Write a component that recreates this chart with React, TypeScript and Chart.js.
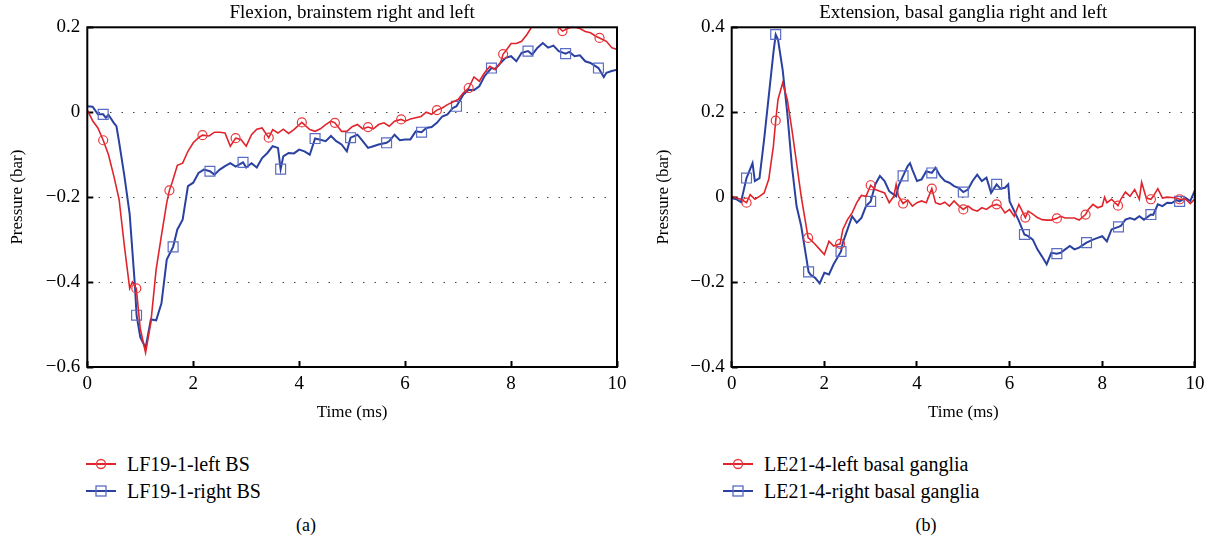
import React, { useEffect, useRef } from "react";
import { Chart, registerables } from "chart.js";

Chart.register(...registerables);

const FONT = '"Liberation Serif", "Times New Roman", serif';

// ---------- Panel (a): Flexion, brainstem ----------
const aTitle = "Flexion, brainstem right and left";
const aLeftLabel = "LF19-1-left BS";
const aRightLabel = "LF19-1-right BS";

const aLeftBS: [number, number][] = [
  [0, 0.005], [0.1, -0.02], [0.2, -0.037], [0.3, -0.066], [0.4, -0.1], [0.5, -0.15],
  [0.6, -0.205], [0.7, -0.315], [0.8, -0.415], [0.85, -0.4], [0.925, -0.415], [1.0, -0.51],
  [1.1, -0.566], [1.2, -0.495], [1.3, -0.37], [1.4, -0.29], [1.5, -0.213], [1.55, -0.184],
  [1.6, -0.166], [1.7, -0.125], [1.8, -0.12], [1.9, -0.092], [2.0, -0.072], [2.1, -0.06],
  [2.175, -0.054], [2.3, -0.056], [2.4, -0.047], [2.5, -0.047], [2.6, -0.049], [2.7, -0.08],
  [2.8, -0.061], [2.9, -0.064], [3.0, -0.08], [3.1, -0.053], [3.2, -0.04], [3.3, -0.037],
  [3.425, -0.06], [3.5, -0.041], [3.6, -0.049], [3.7, -0.04], [3.8, -0.05], [3.9, -0.041],
  [4.05, -0.024], [4.2, -0.041], [4.3, -0.045], [4.4, -0.039], [4.5, -0.029], [4.6, -0.021],
  [4.675, -0.025], [4.8, -0.045], [4.9, -0.045], [5.0, -0.034], [5.1, -0.029], [5.2, -0.039],
  [5.3, -0.035], [5.4, -0.039], [5.5, -0.029], [5.6, -0.025], [5.7, -0.033], [5.8, -0.021],
  [5.925, -0.017], [6.0, -0.021], [6.1, -0.016], [6.2, -0.013], [6.3, -0.01], [6.4, 0.0],
  [6.5, -0.005], [6.6, 0.005], [6.7, 0.01], [6.8, 0.018], [6.9, 0.024], [7.0, 0.03],
  [7.1, 0.046], [7.2, 0.057], [7.3, 0.083], [7.4, 0.073], [7.5, 0.093], [7.6, 0.108],
  [7.7, 0.1], [7.8, 0.116], [7.85, 0.137], [7.9, 0.144], [8.0, 0.162], [8.1, 0.162],
  [8.2, 0.167], [8.3, 0.183], [8.4, 0.203], [8.6, 0.215], [8.8, 0.212], [8.9, 0.2],
  [8.97, 0.191], [9.1, 0.199], [9.2, 0.2], [9.3, 0.197], [9.4, 0.19], [9.5, 0.187],
  [9.6, 0.179], [9.67, 0.175], [9.8, 0.167], [9.9, 0.152], [10.0, 0.148],
];
const aLeftMarkers = [0.3, 0.925, 1.55, 2.175, 2.8, 3.425, 4.05, 4.675, 5.3, 5.925, 6.6, 7.2, 7.85, 8.97, 9.67];

const aRightBS: [number, number][] = [
  [0, 0.014], [0.1, 0.013], [0.2, -0.005], [0.3, -0.005], [0.35, -0.013], [0.4, -0.006],
  [0.5, -0.025], [0.55, -0.033], [0.6, -0.07], [0.7, -0.15], [0.8, -0.24], [0.9, -0.41],
  [0.93, -0.478], [1.0, -0.53], [1.1, -0.555], [1.2, -0.488], [1.3, -0.49], [1.4, -0.45],
  [1.5, -0.347], [1.62, -0.317], [1.7, -0.276], [1.8, -0.253], [1.9, -0.174], [2.0, -0.166],
  [2.1, -0.143], [2.2, -0.135], [2.315, -0.139], [2.4, -0.147], [2.5, -0.135], [2.6, -0.127],
  [2.7, -0.12], [2.8, -0.128], [2.94, -0.118], [3.0, -0.13], [3.1, -0.12], [3.2, -0.13],
  [3.3, -0.108], [3.4, -0.096], [3.5, -0.08], [3.6, -0.084], [3.65, -0.134], [3.7, -0.104],
  [3.8, -0.096], [3.9, -0.097], [4.0, -0.088], [4.1, -0.092], [4.2, -0.1], [4.3, -0.062],
  [4.4, -0.065], [4.5, -0.068], [4.6, -0.056], [4.7, -0.068], [4.8, -0.076], [4.9, -0.092],
  [4.97, -0.06], [5.1, -0.053], [5.2, -0.068], [5.3, -0.084], [5.4, -0.08], [5.5, -0.076],
  [5.65, -0.072], [5.7, -0.068], [5.8, -0.053], [5.9, -0.066], [6.0, -0.064], [6.1, -0.064],
  [6.2, -0.045], [6.31, -0.047], [6.4, -0.037], [6.5, -0.035], [6.6, -0.025], [6.7, -0.01],
  [6.8, -0.005], [6.9, 0.01], [6.97, 0.014], [7.1, 0.042], [7.2, 0.053], [7.3, 0.052],
  [7.4, 0.061], [7.5, 0.085], [7.63, 0.104], [7.7, 0.102], [7.8, 0.116], [7.9, 0.128],
  [8.0, 0.132], [8.1, 0.12], [8.2, 0.14], [8.32, 0.144], [8.4, 0.136], [8.5, 0.152],
  [8.6, 0.163], [8.7, 0.152], [8.8, 0.157], [8.9, 0.144], [9.03, 0.138], [9.1, 0.142],
  [9.2, 0.132], [9.3, 0.134], [9.4, 0.12], [9.5, 0.116], [9.65, 0.104], [9.75, 0.083],
  [9.8, 0.093], [9.9, 0.097], [10.0, 0.1],
];
const aRightMarkers = [0.3, 0.93, 1.62, 2.315, 2.94, 3.65, 4.3, 4.97, 5.65, 6.31, 6.97, 7.63, 8.32, 9.03, 9.65];

const aYTicks = [-0.6, -0.4, -0.2, 0, 0.2];
const aYTickLabels = ["\u22120.6", "\u22120.4", "\u22120.2", "0", "0.2"];

// ---------- Panel (b): Extension, basal ganglia ----------
const bTitle = "Extension, basal ganglia right and left";
const bLeftLabel = "LE21-4-left basal ganglia";
const bRightLabel = "LE21-4-right basal ganglia";

const bLeftBG: [number, number][] = [
  [0, 0.002], [0.1, -0.002], [0.2, -0.005], [0.32, -0.013], [0.4, 0.006], [0.5, -0.005],
  [0.6, 0.002], [0.7, 0.01], [0.8, 0.042], [0.9, 0.12], [0.95, 0.18], [1.0, 0.23],
  [1.1, 0.269], [1.2, 0.23], [1.3, 0.159], [1.4, 0.081], [1.5, 0.002], [1.65, -0.096],
  [1.7, -0.1], [1.8, -0.111], [1.9, -0.123], [2.0, -0.135], [2.1, -0.104], [2.2, -0.115],
  [2.34, -0.11], [2.4, -0.076], [2.5, -0.053], [2.6, -0.037], [2.7, -0.013], [2.8, 0.004],
  [2.9, 0.002], [3.0, 0.028], [3.1, 0.018], [3.2, 0.014], [3.3, 0.01], [3.4, -0.013],
  [3.5, 0.002], [3.55, 0.03], [3.6, 0.002], [3.7, -0.015], [3.8, -0.007], [3.9, -0.021],
  [4.0, -0.013], [4.1, -0.009], [4.2, -0.013], [4.32, 0.02], [4.4, -0.013], [4.5, -0.017],
  [4.6, -0.012], [4.7, -0.021], [4.8, -0.009], [4.9, -0.02], [5.0, -0.029], [5.1, -0.021],
  [5.2, -0.029], [5.3, -0.033], [5.4, -0.025], [5.5, -0.029], [5.6, -0.021], [5.72, -0.017],
  [5.8, -0.021], [5.9, -0.037], [6.0, -0.029], [6.1, -0.045], [6.2, -0.017], [6.34, -0.048],
  [6.4, -0.033], [6.5, -0.04], [6.6, -0.048], [6.7, -0.053], [6.8, -0.054], [6.9, -0.054],
  [7.02, -0.05], [7.1, -0.045], [7.2, -0.049], [7.3, -0.049], [7.4, -0.049], [7.5, -0.054],
  [7.64, -0.041], [7.7, -0.029], [7.8, -0.017], [7.9, -0.025], [8.0, -0.021], [8.05, 0.0],
  [8.1, -0.013], [8.2, -0.005], [8.34, -0.02], [8.4, -0.005], [8.5, 0.012], [8.6, 0.002],
  [8.7, 0.018], [8.8, -0.005], [8.85, 0.035], [8.95, -0.002], [9.05, -0.005], [9.1, 0.002],
  [9.2, 0.02], [9.3, -0.002], [9.4, 0.0], [9.5, -0.001], [9.6, -0.002], [9.67, -0.005],
  [9.8, -0.005], [9.9, -0.015], [10.0, -0.004],
];
const bLeftMarkers = [0.32, 0.95, 1.65, 2.34, 3.0, 3.7, 4.32, 5.0, 5.72, 6.34, 7.02, 7.64, 8.34, 9.05, 9.67];

const bRightBG: [number, number][] = [
  [0, -0.002], [0.1, -0.005], [0.2, -0.012], [0.32, 0.045], [0.45, 0.08], [0.5, 0.038],
  [0.6, 0.045], [0.7, 0.136], [0.8, 0.238], [0.9, 0.34], [0.95, 0.383], [1.0, 0.371],
  [1.1, 0.3], [1.2, 0.198], [1.3, 0.073], [1.4, -0.021], [1.5, -0.068], [1.66, -0.176],
  [1.7, -0.182], [1.8, -0.19], [1.9, -0.203], [2.0, -0.178], [2.1, -0.182], [2.2, -0.158],
  [2.36, -0.128], [2.4, -0.107], [2.5, -0.076], [2.6, -0.045], [2.7, -0.06], [2.8, -0.049],
  [2.9, -0.021], [3.0, -0.01], [3.1, 0.03], [3.2, 0.05], [3.3, 0.038], [3.4, 0.014],
  [3.5, 0.006], [3.55, 0.002], [3.6, 0.026], [3.7, 0.05], [3.8, 0.073], [3.85, 0.08],
  [3.9, 0.065], [4.0, 0.038], [4.1, 0.042], [4.2, 0.061], [4.32, 0.057], [4.4, 0.069],
  [4.5, 0.05], [4.6, 0.038], [4.7, 0.034], [4.8, 0.026], [4.9, 0.022], [5.0, 0.012],
  [5.1, 0.018], [5.2, 0.038], [5.3, 0.053], [5.4, 0.038], [5.5, 0.046], [5.6, 0.01],
  [5.72, 0.03], [5.8, 0.02], [5.9, 0.022], [5.97, 0.03], [6.0, -0.01], [6.1, -0.033],
  [6.2, -0.056], [6.32, -0.088], [6.4, -0.092], [6.5, -0.1], [6.6, -0.123], [6.7, -0.14],
  [6.8, -0.158], [6.9, -0.131], [7.02, -0.133], [7.1, -0.131], [7.2, -0.123], [7.3, -0.115],
  [7.4, -0.123], [7.5, -0.119], [7.66, -0.107], [7.8, -0.1], [7.9, -0.096], [8.0, -0.092],
  [8.1, -0.104], [8.2, -0.076], [8.35, -0.07], [8.4, -0.068], [8.5, -0.053], [8.6, -0.049],
  [8.7, -0.053], [8.8, -0.045], [8.9, -0.053], [9.05, -0.041], [9.1, -0.042], [9.2, -0.017],
  [9.3, -0.021], [9.4, -0.013], [9.5, -0.014], [9.6, -0.007], [9.67, -0.01], [9.8, -0.002],
  [9.9, -0.009], [10.0, 0.016],
];
const bRightMarkers = [0.32, 0.95, 1.66, 2.36, 3.0, 3.7, 4.32, 5.0, 5.72, 6.32, 7.02, 7.66, 8.35, 9.05, 9.67];

const bYTicks = [-0.4, -0.2, 0, 0.2, 0.4];
const bYTickLabels = ["\u22120.4", "\u22120.2", "0", "0.2", "0.4"];

// ---------- Shared axis ----------
const xTicks = [0, 2, 4, 6, 8, 10];
const xTickLabels = ["0", "2", "4", "6", "8", "10"];
const xTitle = "Time (ms)";
const yTitle = "Pressure (bar)";

const RED = "#e0242b";
const RED_MARK = "#e8383e";
const BLUE = "#2a41a0";
const BLUE_MARK = "#5a6cc4";

const TICK_SIZE = 19;
const AXIS_TITLE_SIZE = 17;
const TITLE_SIZE = 19;
const LEGEND_SIZE = 20;

const boxPlugin = {
  id: "frameBox",
  afterDatasetsDraw(chart: any) {
    const { ctx, chartArea } = chart;
    const { left, top, right, bottom } = chartArea;
    ctx.save();
    ctx.strokeStyle = "#000";
    ctx.lineWidth = 2;
    ctx.strokeRect(left, top, right - left, bottom - top);
    ctx.restore();
  },
};

function makeDataset(label: string, pairs: [number, number][], markers: number[], color: string, markColor: string, style: string, lineWidth: number, radius: number) {
  const marks = new Set(markers.map((m) => m.toFixed(3)));
  return {
    label,
    data: pairs.map(([x, y]) => ({ x, y })),
    borderColor: color,
    borderWidth: lineWidth,
    pointStyle: style,
    pointRadius: (c: any) => (c.raw && marks.has(Number(c.raw.x).toFixed(3)) ? radius : 0),
    pointHoverRadius: 0,
    pointBorderColor: markColor,
    pointBackgroundColor: "rgba(0,0,0,0)",
    pointBorderWidth: 1.2,
    tension: 0,
    fill: false,
  };
}

function buildConfig(opts: {
  title: string;
  datasets: any[];
  yMin: number;
  yMax: number;
  yTicks: number[];
  yTickLabels: string[];
  yAxisWidth: number;
  yTitlePad: number;
  padRight: number;
}) {
  const tickFont = { family: FONT, size: TICK_SIZE };
  return {
    type: "line",
    data: { datasets: opts.datasets },
    plugins: [boxPlugin],
    options: {
      animation: false,
      responsive: false,
      maintainAspectRatio: false,
      events: [],
      layout: { padding: { left: 0, right: opts.padRight, top: 0, bottom: 0 } },
      plugins: {
        legend: { display: false },
        tooltip: { enabled: false },
        title: {
          display: true,
          text: opts.title,
          fullSize: false,
          color: "#000",
          font: { family: FONT, size: TITLE_SIZE, weight: "normal" },
          padding: { top: 1.5, bottom: 3 },
        },
      },
      scales: {
        x: {
          type: "linear",
          min: 0,
          max: 10,
          afterBuildTicks: (s: any) => {
            s.ticks = xTicks.map((v) => ({ value: v }));
          },
          afterFit: (s: any) => {
            s.height = 63;
          },
          grid: {
            display: true,
            drawOnChartArea: false,
            drawTicks: true,
            tickLength: -6,
            tickColor: "#000",
            tickWidth: 2,
          },
          border: { display: false },
          ticks: {
            color: "#000",
            font: tickFont,
            padding: 11.6,
            maxRotation: 0,
            autoSkip: false,
            callback: (v: number) => xTickLabels[xTicks.indexOf(v)],
          },
          title: {
            display: true,
            text: xTitle,
            color: "#000",
            font: { family: FONT, size: AXIS_TITLE_SIZE },
            padding: { top: 0, bottom: 6.8 },
          },
        },
        y: {
          type: "linear",
          min: opts.yMin,
          max: opts.yMax,
          afterBuildTicks: (s: any) => {
            s.ticks = opts.yTicks.map((v) => ({ value: v }));
          },
          afterFit: (s: any) => {
            s.width = opts.yAxisWidth;
          },
          grid: {
            display: true,
            drawOnChartArea: true,
            color: (c: any) =>
              c.tick && (Math.abs(c.tick.value - opts.yMin) < 1e-9 || Math.abs(c.tick.value - opts.yMax) < 1e-9)
                ? "rgba(0,0,0,0)"
                : "#444",
            lineWidth: 1,
            drawTicks: true,
            tickLength: -6,
            tickColor: "#000",
            tickWidth: 2,
          },
          border: { display: false, dash: [1.5, 10] },
          ticks: {
            color: "#000",
            font: tickFont,
            padding: 13,
            autoSkip: false,
            callback: (v: number) => {
              const i = opts.yTicks.findIndex((t) => Math.abs(t - v) < 1e-9);
              return i >= 0 ? opts.yTickLabels[i] : "";
            },
          },
          title: {
            display: true,
            text: yTitle,
            color: "#000",
            font: { family: FONT, size: AXIS_TITLE_SIZE },
            padding: { top: opts.yTitlePad, bottom: 0 },
          },
        },
      },
    },
  };
}

function ChartCanvas({ left, top, width, height, makeConfig }: any) {
  const ref = useRef<HTMLCanvasElement | null>(null);
  useEffect(() => {
    if (!ref.current) return;
    const chart = new Chart(ref.current, makeConfig());
    return () => chart.destroy();
  }, []);
  return (
    <canvas
      ref={ref}
      width={width}
      height={height}
      style={{ position: "absolute", left, top, width, height, display: "block" }}
    />
  );
}

function LegendRow({ x, y, label, kind, color, markColor }: any) {
  return (
    <div style={{ position: "absolute", left: x, top: y - 12, height: 24, display: "flex", alignItems: "center" }}>
      <svg width={32} height={24} style={{ display: "block" }}>
        <line x1={1} y1={12} x2={31} y2={12} stroke={color} strokeWidth={2} />
        {kind === "circle" ? (
          <circle cx={16} cy={12} r={4.5} fill="none" stroke={markColor} strokeWidth={1.3} />
        ) : (
          <rect x={11} y={7} width={10} height={10} fill="none" stroke={markColor} strokeWidth={1.3} />
        )}
      </svg>
      <span style={{ marginLeft: 10, fontFamily: FONT, fontSize: LEGEND_SIZE, color: "#000", whiteSpace: "nowrap", lineHeight: "24px" }}>
        {label}
      </span>
    </div>
  );
}

export default function App() {
  const makeA = () =>
    buildConfig({
      title: aTitle,
      datasets: [
        makeDataset(aLeftLabel, aLeftBS, aLeftMarkers, RED, RED_MARK, "circle", 1.6, 4.5),
        makeDataset(aRightLabel, aRightBS, aRightMarkers, BLUE, BLUE_MARK, "rect", 2, 7),
      ],
      yMin: -0.6,
      yMax: 0.2,
      yTicks: aYTicks,
      yTickLabels: aYTickLabels,
      yAxisWidth: 87.3,
      yTitlePad: 7.8,
      padRight: 23,
    });
  const makeB = () =>
    buildConfig({
      title: bTitle,
      datasets: [
        makeDataset(bLeftLabel, bLeftBG, bLeftMarkers, RED, RED_MARK, "circle", 1.6, 4.5),
        makeDataset(bRightLabel, bRightBG, bRightMarkers, BLUE, BLUE_MARK, "rect", 2, 7),
      ],
      yMin: -0.4,
      yMax: 0.4,
      yTicks: bYTicks,
      yTickLabels: bYTickLabels,
      yAxisWidth: 91.7,
      yTitlePad: 13.8,
      padRight: 18,
    });

  return (
    <div style={{ position: "fixed", left: 0, top: 0, width: 1216, height: 548, background: "#fff", overflow: "hidden" }}>
      <ChartCanvas left={0} top={0} width={640} height={430} makeConfig={makeA} />
      <ChartCanvas left={640} top={0} width={576} height={430} makeConfig={makeB} />
      <LegendRow x={85} y={464} label={aLeftLabel} kind="circle" color={RED} markColor={RED_MARK} />
      <LegendRow x={85} y={491} label={aRightLabel} kind="rect" color={BLUE} markColor={BLUE_MARK} />
      <LegendRow x={722} y={464} label={bLeftLabel} kind="circle" color={RED} markColor={RED_MARK} />
      <LegendRow x={722} y={491} label={bRightLabel} kind="rect" color={BLUE} markColor={BLUE_MARK} />
      <div style={{ position: "absolute", left: 286, top: 515, width: 40, textAlign: "center", fontFamily: FONT, fontSize: 18, color: "#000" }}>(a)</div>
      <div style={{ position: "absolute", left: 906, top: 515, width: 40, textAlign: "center", fontFamily: FONT, fontSize: 18, color: "#000" }}>(b)</div>
    </div>
  );
}
